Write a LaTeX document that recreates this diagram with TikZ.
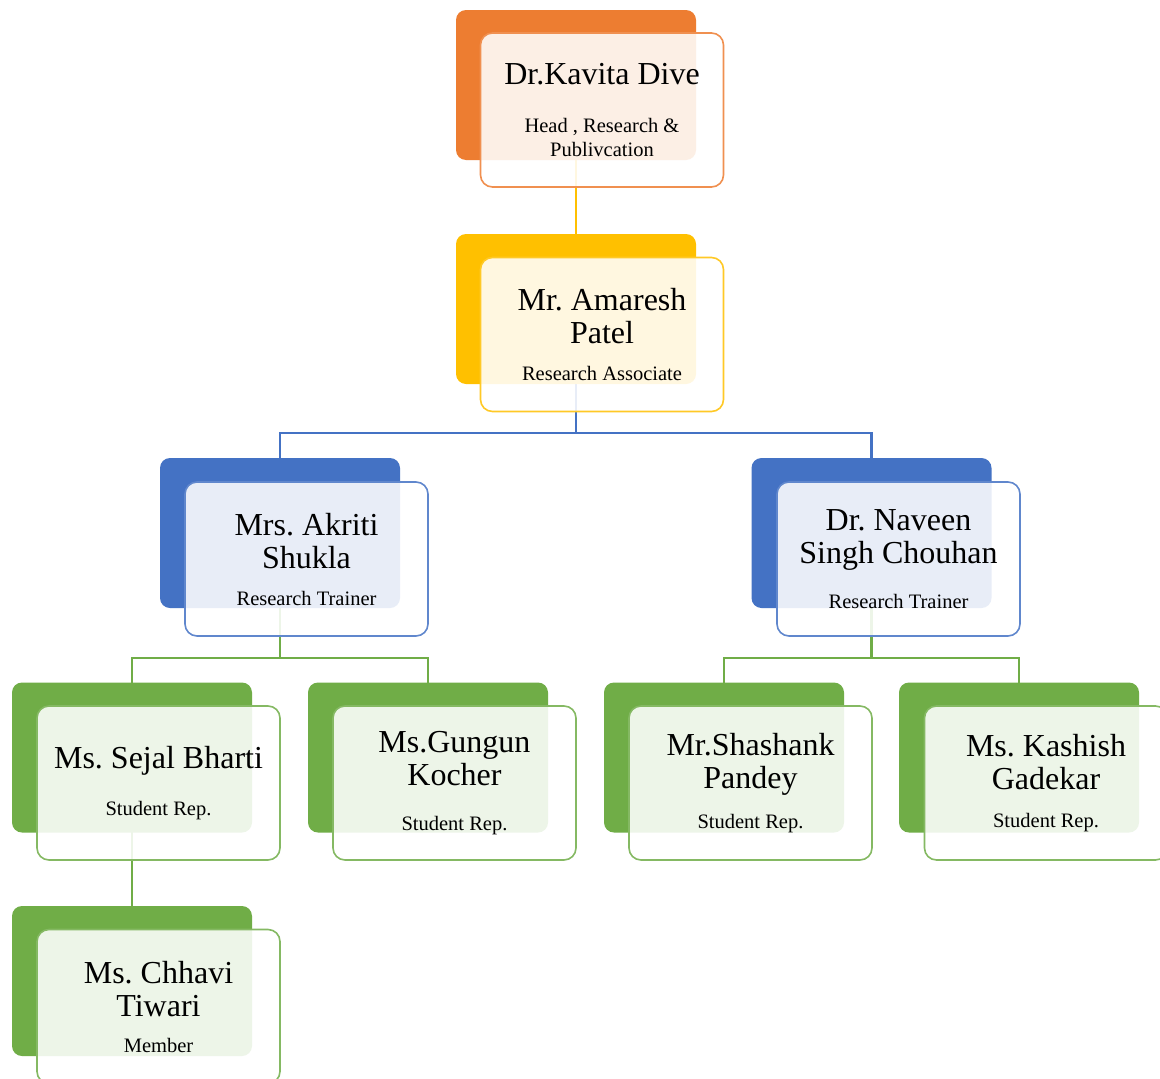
\documentclass[tikz,border=0pt]{standalone}
\usepackage{fontspec}
\setmainfont{Liberation Serif}
\frenchspacing
\usetikzlibrary{backgrounds}
\definecolor{corange}{RGB}{237,125,49}
\definecolor{cyellow}{RGB}{255,192,0}
\definecolor{cblue}{RGB}{68,114,196}
\definecolor{cgreen}{RGB}{112,173,71}
\newcommand\rolefont{\fontsize{20.5}{24}\selectfont}
\tikzset{
  backbox/.style={rounded corners=10pt, minimum width=240pt, minimum height=150pt, inner sep=0pt, fill=#1},
  frontbox/.style={draw=#1!85, line width=1.6pt, fill=white, fill opacity=0.88, text opacity=1,
    rounded corners=12pt, minimum width=243pt, minimum height=154pt, inner sep=0pt,
    align=center, font=\fontsize{32}{33}\selectfont\frenchspacing},
  conn/.style={draw=#1, line width=2.2pt},
}
\begin{document}
\begin{tikzpicture}[x=1pt,y=-1pt]
\useasboundingbox (0,0) rectangle (1160,1079);
% back boxes
\node[backbox=corange] (B1) at (576,85) {};
\node[backbox=cyellow] (B2) at (576,309) {};
\node[backbox=cblue]   (B3) at (280,533) {};
\node[backbox=cblue]   (B4) at (871.5,533) {};
\node[backbox=cgreen]  (B5) at (132,757.5) {};
\node[backbox=cgreen]  (B6) at (428,757.5) {};
\node[backbox=cgreen]  (B7) at (724,757.5) {};
\node[backbox=cgreen]  (B8) at (1019,757.5) {};
\node[backbox=cgreen]  (B9) at (132,981) {};
% front boxes
\node[frontbox=corange] (F1) at (602,110) {Dr.Kavita Dive\\[15pt]\rolefont Head , Research \&\\[-9pt]\rolefont Publivcation};
\node[frontbox=cyellow] (F2) at (602,334.5) {Mr. Amaresh\\Patel\\[4pt]\rolefont Research Associate};
\node[frontbox=cblue]   (F3) at (306.5,559) {Mrs. Akriti\\Shukla\\[4pt]\rolefont Research Trainer};
\node[frontbox=cblue]   (F4) at (898.5,559) {Dr. Naveen\\Singh Chouhan\\[12pt]\rolefont Research Trainer};
\node[frontbox=cgreen]  (F5) at (158.5,783) {Ms. Sejal Bharti\\[14pt]\rolefont Student Rep.};
\node[frontbox=cgreen]  (F6) at (454.5,783) {Ms.Gungun\\Kocher\\[12pt]\rolefont Student Rep.};
\node[frontbox=cgreen]  (F7) at (750.5,783) {Mr.Shashank\\Pandey\\[7pt]\rolefont Student Rep.};
\node[frontbox=cgreen]  (F8) at (1046,783) {Ms. Kashish\\Gadekar\\[5pt]\rolefont Student Rep.};
\node[frontbox=cgreen]  (F9) at (158.5,1006.5) {Ms. Chhavi\\Tiwari\\[3pt]\rolefont Member};
% junctions
\coordinate (J2) at (576,433);
\coordinate (J3) at (280,658);
\coordinate (J4) at (871.5,658);
\begin{pgfonlayer}{background}
\fill[white] (0,0) rectangle (1160,1079);
\draw[conn=cyellow] (B1.center) -- (B2.center);
\draw[conn=cblue] (B2.center) -- (J2) -| (B3.center);
\draw[conn=cblue] (J2) -| (B4.center);
\draw[conn=cgreen] (B3.center) -- (J3) -| (B5.center);
\draw[conn=cgreen] (J3) -| (B6.center);
\draw[conn=cgreen] (B4.center) -- (J4) -| (B7.center);
\draw[conn=cgreen] (J4) -| (B8.center);
\draw[conn=cgreen] (B5.center) -- (B9.center);
\end{pgfonlayer}
\end{tikzpicture}
\end{document}
